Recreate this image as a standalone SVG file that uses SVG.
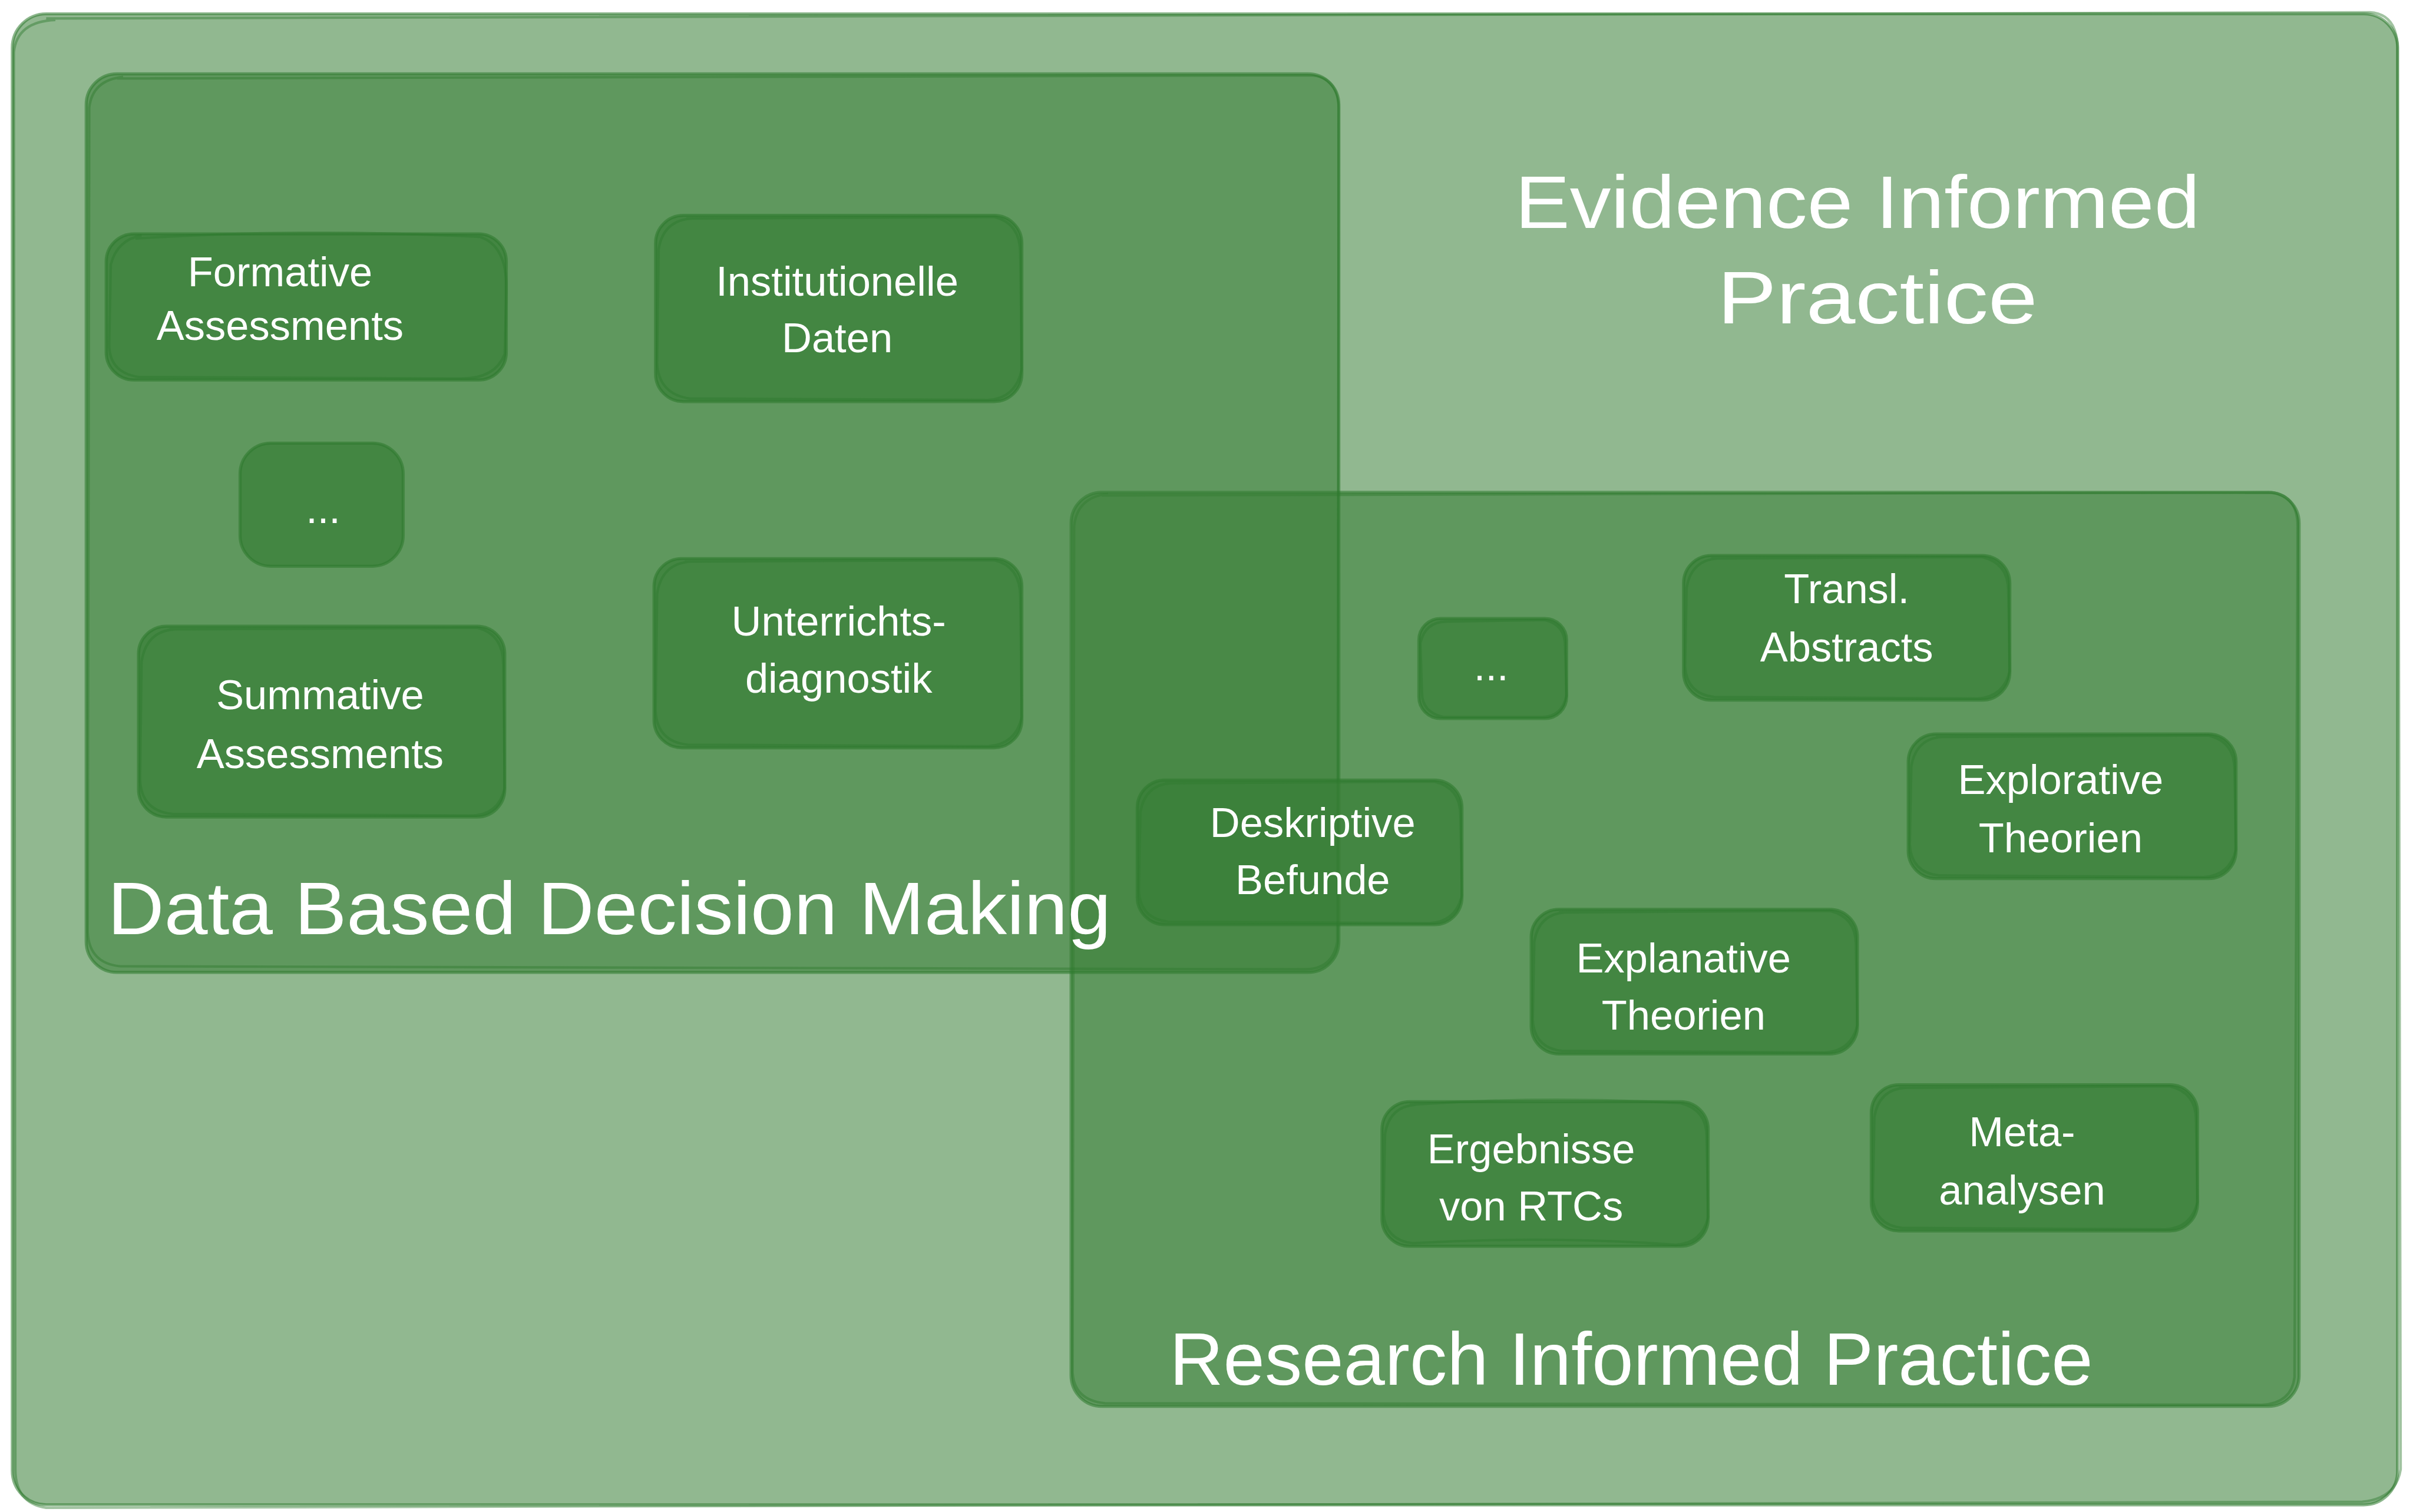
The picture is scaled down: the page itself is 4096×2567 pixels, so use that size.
<svg xmlns="http://www.w3.org/2000/svg" width="4096" height="2567" viewBox="0 0 4096 2567">
<style>
.frame{fill:#367e35;fill-opacity:0.55;stroke:#2e7a2e;stroke-opacity:0.55;stroke-width:2}
.node{fill:#367e35;fill-opacity:0.68;stroke:#2e7a2e;stroke-opacity:0.6;stroke-width:2}
.sk{fill:none;stroke:#2e7a2e;stroke-opacity:0.45;stroke-width:1.6}
.t{font-family:"Liberation Sans","DejaVu Sans",sans-serif;fill:#ffffff;text-anchor:middle}
.nt{font-size:27px}
.big{font-size:48px}
</style>
<rect width="4096" height="2567" fill="#ffffff"/>
<g transform="scale(2.61224)">
<g id="evidence-informed-practice">
<rect class="frame" x="8" y="9" width="1550" height="969" rx="22"/>
<path class="sk" d="M30 12 L1540 8 Q1557 9 1558 30 L1560 955 Q1557 974 1535 976 L30 980 Q10 977 10 955 L9 34 Q11 14 36 13"/>
<text class="t big" x="1207" y="148" textLength="445" lengthAdjust="spacingAndGlyphs">Evidence Informed</text>
<text class="t big" x="1220" y="210" textLength="208" lengthAdjust="spacingAndGlyphs">Practice</text>
</g>
<g id="research-informed-practice">
<rect class="frame" x="696" y="320" width="798" height="594" rx="20"/>
<path class="sk" d="M716 322 L1476 320 Q1493 322 1493 342 L1491 895 Q1489 912 1470 913 L718 912 Q698 910 697 892 L698 342 Q700 323 720 321"/>
<text class="t big" x="1060" y="900" textLength="600" lengthAdjust="spacingAndGlyphs">Research Informed Practice</text>
</g>
<g id="data-based-decision-making">
<rect class="frame" x="56" y="48" width="814" height="584" rx="20"/>
<path class="sk" d="M76 51 L852 49 Q869 50 870 70 L869 612 Q866 630 848 630 L78 628 Q58 626 57 606 L58 70 Q60 52 80 50"/>
<text class="t big" x="396" y="607" textLength="652" lengthAdjust="spacingAndGlyphs">Data Based Decision Making</text>
</g>
<g id="formative-assessments">
<rect class="node" x="69" y="152" width="260" height="95" rx="18"/>
<path class="sk" d="M88 155 Q200 148 312 154 Q330 160 329 190 L328 230 Q322 246 300 246 L90 245 Q70 242 71 222 L72 172 Q76 156 92 153"/>
<text class="t nt" x="182" y="186">Formative</text>
<text class="t nt" x="182" y="221">Assessments</text>
</g>
<g id="institutionelle-daten">
<rect class="node" x="426" y="140" width="238" height="121" rx="18"/>
<path class="sk" d="M446 142 L646 141 Q663 145 663 165 L664 240 Q660 259 642 260 L448 259 Q428 256 427 236 L428 162 Q431 143 450 142"/>
<text class="t nt" x="544" y="192">Institutionelle</text>
<text class="t nt" x="544" y="229">Daten</text>
</g>
<g id="ellipsis-left">
<rect class="node" x="156" y="288" width="106" height="80" rx="20"/>
<text class="t nt" x="210" y="340">...</text>
</g>
<g id="summative-assessments">
<rect class="node" x="90" y="407" width="238" height="124" rx="18"/>
<path class="sk" d="M110 409 L310 408 Q327 412 327 432 L328 512 Q324 530 306 530 L112 529 Q92 527 91 507 L92 430 Q95 410 114 409"/>
<text class="t nt" x="208" y="461">Summative</text>
<text class="t nt" x="208" y="499">Assessments</text>
</g>
<g id="unterrichtsdiagnostik">
<rect class="node" x="425" y="363" width="239" height="123" rx="18"/>
<path class="sk" d="M445 365 L646 364 Q663 368 663 388 L664 466 Q660 484 642 485 L447 484 Q427 482 426 462 L427 386 Q430 366 449 365"/>
<text class="t nt" x="545" y="413">Unterrichts-</text>
<text class="t nt" x="545" y="450">diagnostik</text>
</g>
<g id="ellipsis-right">
<rect class="node" x="922" y="402" width="96" height="65" rx="14"/>
<path class="sk" d="M938 404 L1004 403 Q1017 406 1017 420 L1018 452 Q1015 466 1002 466 L938 466 Q924 463 924 450 L923 418 Q926 404 940 404"/>
<text class="t nt" x="969" y="442">...</text>
</g>
<g id="transl-abstracts">
<rect class="node" x="1094" y="361" width="212" height="94" rx="18"/>
<path class="sk" d="M1112 363 L1288 362 Q1305 366 1305 384 L1306 436 Q1302 453 1285 454 L1114 453 Q1096 451 1095 433 L1096 382 Q1099 364 1116 363"/>
<text class="t nt" x="1200" y="392">Transl.</text>
<text class="t nt" x="1200" y="430">Abstracts</text>
</g>
<g id="explorative-theorien">
<rect class="node" x="1240" y="477" width="213" height="94" rx="18"/>
<path class="sk" d="M1258 479 L1435 478 Q1452 482 1452 500 L1453 552 Q1449 569 1432 570 L1260 569 Q1242 567 1241 549 L1242 498 Q1245 480 1262 479"/>
<text class="t nt" x="1339" y="516">Explorative</text>
<text class="t nt" x="1339" y="554">Theorien</text>
</g>
<g id="deskriptive-befunde">
<rect class="node" x="739" y="507" width="211" height="94" rx="18"/>
<path class="sk" d="M757 509 L932 508 Q949 512 949 530 L950 582 Q946 599 929 600 L759 599 Q741 597 740 579 L741 528 Q744 510 761 509"/>
<text class="t nt" x="853" y="544">Deskriptive</text>
<text class="t nt" x="853" y="581">Befunde</text>
</g>
<g id="explanative-theorien">
<rect class="node" x="995" y="591" width="212" height="94" rx="18"/>
<path class="sk" d="M1013 593 L1189 592 Q1206 596 1206 614 L1207 666 Q1203 683 1186 684 L1015 683 Q997 681 996 663 L997 612 Q1000 594 1017 593"/>
<text class="t nt" x="1094" y="632">Explanative</text>
<text class="t nt" x="1094" y="669">Theorien</text>
</g>
<g id="ergebnisse-von-rtcs">
<rect class="node" x="898" y="716" width="212" height="94" rx="18"/>
<path class="sk" d="M916 718 Q1004 712 1092 717 Q1109 721 1109 739 L1110 791 Q1106 808 1089 809 Q1004 803 918 808 Q900 806 899 788 L900 737 Q903 719 920 718"/>
<text class="t nt" x="995" y="756">Ergebnisse</text>
<text class="t nt" x="995" y="793">von RTCs</text>
</g>
<g id="meta-analysen">
<rect class="node" x="1216" y="705" width="212" height="95" rx="18"/>
<path class="sk" d="M1234 707 L1410 706 Q1427 710 1427 728 L1428 781 Q1424 798 1407 799 L1236 798 Q1218 796 1217 778 L1218 726 Q1221 708 1238 707"/>
<text class="t nt" x="1314" y="745">Meta-</text>
<text class="t nt" x="1314" y="783">analysen</text>
</g>
<g id="connectors"></g>
</g>
</svg>
